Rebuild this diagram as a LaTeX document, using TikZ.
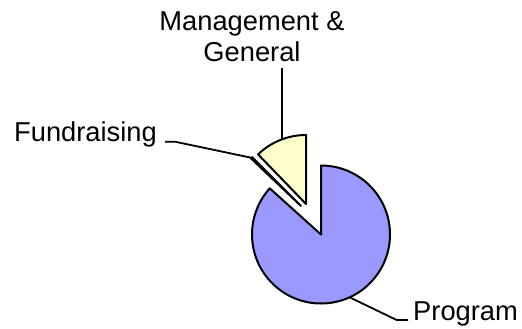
\documentclass[tikz,border=0pt]{standalone}
\usepackage{fontspec}
\setmainfont{Liberation Sans}
\usetikzlibrary{positioning}
\definecolor{progblue}{HTML}{9999FF}
\definecolor{mgmtyellow}{HTML}{FFFFCC}
\definecolor{fundplum}{HTML}{993366}
\tikzstyle{slice} = [draw=black, line width=2bp, line join=round]
\tikzstyle{leader} = [draw=black, line width=1.8bp]
\tikzstyle{pielabel} = [inner sep=0pt, font=\fontsize{27.4}{31.7}\selectfont]

\begin{document}
\begin{tikzpicture}[x=1bp,y=1bp]
\useasboundingbox (0,0) rectangle (522,328);
\coordinate (progc) at (321,93.5);
\coordinate (mgmtc) at (306,124);
\coordinate (fundc) at (301,122);

% slices
\draw[slice, fill=progblue] (progc) -- ++(138:69) arc[start angle=138, end angle=450, radius=69] -- cycle;
\draw[slice, fill=mgmtyellow] (mgmtc) -- ++(90:69) arc[start angle=90, end angle=134, radius=69] -- cycle;
\draw[slice, fill=fundplum] (fundc) -- ++(135:69) arc[start angle=135, end angle=136.4, radius=69] -- cycle;

\coordinate (progtip) at ([shift={(-65.5:69)}]progc);
\coordinate (mgmttip) at ([shift={(110.4:69)}]mgmtc);
\coordinate (fundtip) at ([shift={(135.7:69)}]fundc);

% labels
\node[pielabel, anchor=base west] (proglbl) at (413,8) {Program};
\node[pielabel, anchor=base east] (fundlbl) at (157,186.3) {Fundraising};
\node[pielabel, align=center, anchor=base] (mgmtlbl) at (252,266.3) {Management \&\\General};

\draw[leader] (progtip) -- ++(47,-22.7) -- ([xshift=-5bp]proglbl.base west);
\draw[leader] ([xshift=8bp]fundlbl.base east) -- ++(10,0) -- (fundtip);
\draw[leader] (mgmttip) -- ++(0,71);
\end{tikzpicture}
\end{document}
